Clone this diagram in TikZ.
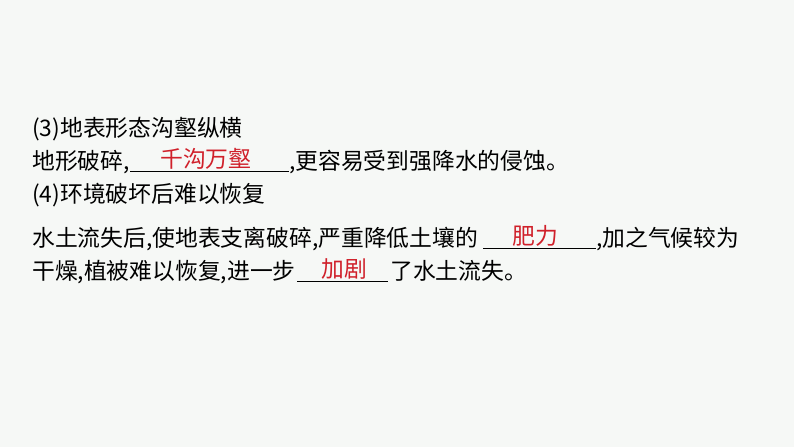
\documentclass[tikz,border=0pt]{standalone}
\usepackage{fontspec}
\setmainfont{Noto Sans CJK SC}
\definecolor{bg}{HTML}{F6F8F6}
\definecolor{ans}{HTML}{D0202A}
\begin{document}
\begin{tikzpicture}[x=1pt,y=-1pt,
  txt/.style={anchor=base west,inner sep=0pt,font=\fontsize{22.8}{26}\selectfont},
  red/.style={txt,text=ans},
  ul/.style={line width=0.9pt}]
\fill[bg] (0,0) rectangle (794,447);
\useasboundingbox (0,0) rectangle (794,447);
\node[txt] (l1) at (32,136) {(3)地表形态沟壑纵横};
\node[txt] (l2a) at (32,169) {地形破碎,};
\coordinate (u2s) at (130,171); \coordinate (u2e) at (289,171);
\draw[ul] (u2s) -- (u2e);
\node[red] (a2) at (160,167) {千沟万壑};
\node[txt] (l2b) at (289,169) {,更容易受到强降水的侵蚀。};
\node[txt] (l3) at (32,202) {(4)环境破坏后难以恢复};
\node[txt] (l4a) at (32,246) {水土流失后,使地表支离破碎,严重降低土壤的};
\coordinate (u4s) at (483,248); \coordinate (u4e) at (596,248);
\draw[ul] (u4s) -- (u4e);
\node[red] (a4) at (512,244) {肥力};
\node[txt] (l4b) at (596,246) {,加之气候较为};
\node[txt] (l5a) at (32,279) {干燥,植被难以恢复,进一步};
\coordinate (u5s) at (297,281); \coordinate (u5e) at (388,281);
\draw[ul] (u5s) -- (u5e);
\node[red] (a5) at (321,277) {加剧};
\node[txt] (l5b) at (390,279) {了水土流失。};
\end{tikzpicture}
\end{document}
